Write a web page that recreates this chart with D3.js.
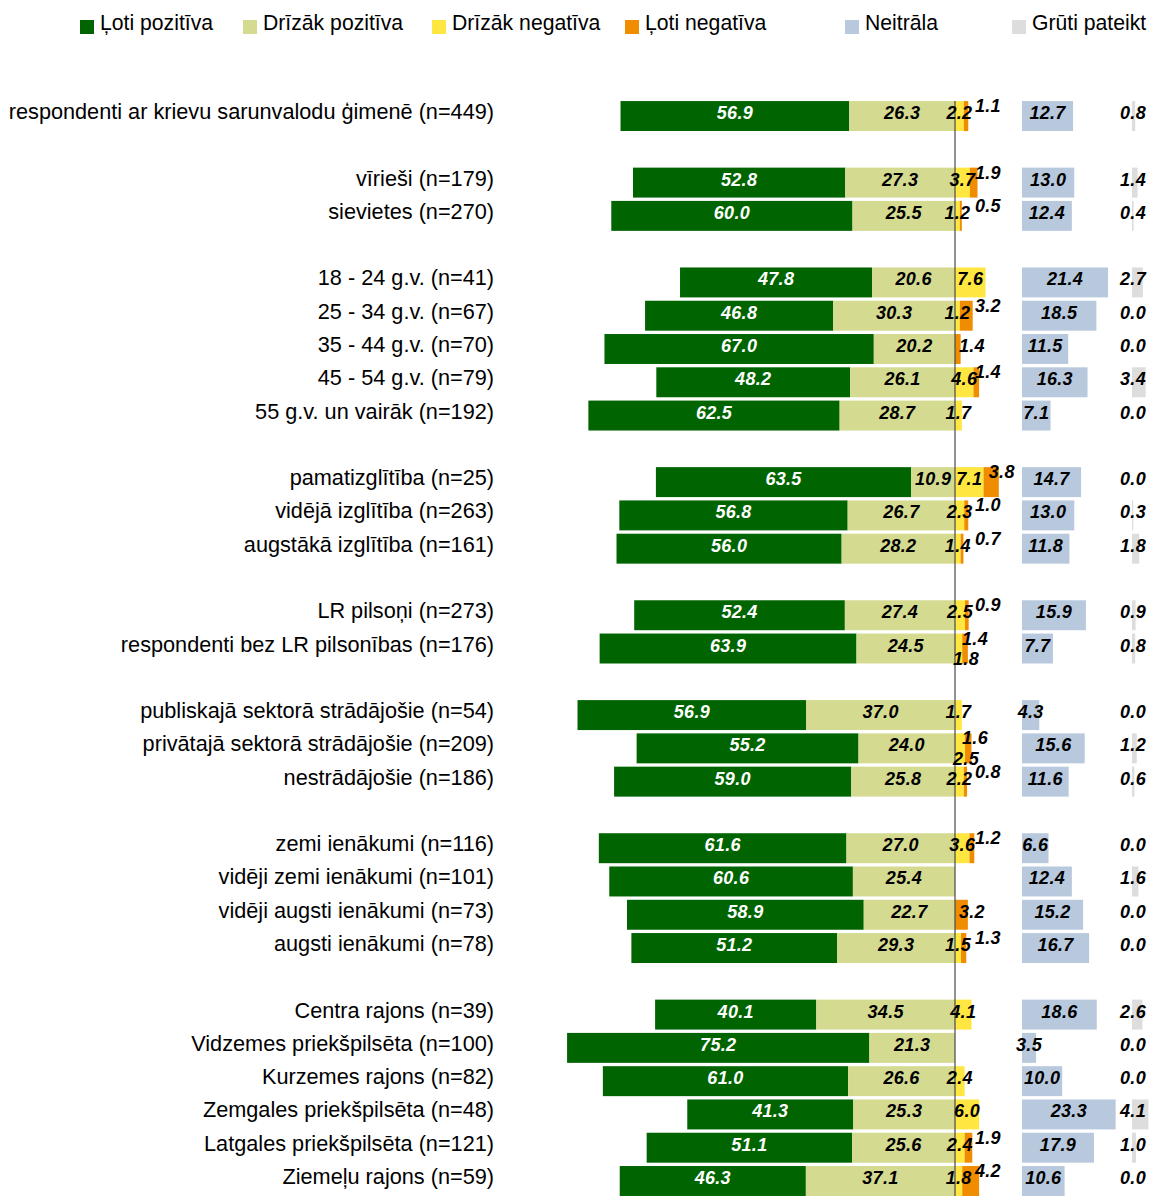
<!DOCTYPE html>
<html>
<head>
<meta charset="utf-8">
<script src="https://cdn.jsdelivr.net/npm/d3@7"></script>
<style>
  html, body { margin: 0; padding: 0; background: #fff; }
  svg { display: block; }
</style>
</head>
<body>
<script>
// ---------------- DATA ----------------
const categories = [
  "respondenti ar krievu sarunvalodu ģimenē (n=449)",
  "",
  "vīrieši (n=179)",
  "sievietes (n=270)",
  "",
  "18 - 24 g.v. (n=41)",
  "25 - 34 g.v. (n=67)",
  "35 - 44 g.v. (n=70)",
  "45 - 54 g.v. (n=79)",
  "55 g.v. un vairāk (n=192)",
  "",
  "pamatizglītība (n=25)",
  "vidējā izglītība (n=263)",
  "augstākā izglītība (n=161)",
  "",
  "LR pilsoņi (n=273)",
  "respondenti bez LR pilsonības (n=176)",
  "",
  "publiskajā sektorā strādājošie (n=54)",
  "privātajā sektorā strādājošie (n=209)",
  "nestrādājošie (n=186)",
  "",
  "zemi ienākumi (n=116)",
  "vidēji zemi ienākumi (n=101)",
  "vidēji augsti ienākumi (n=73)",
  "augsti ienākumi (n=78)",
  "",
  "Centra rajons (n=39)",
  "Vidzemes priekšpilsēta (n=100)",
  "Kurzemes rajons (n=82)",
  "Zemgales priekšpilsēta (n=48)",
  "Latgales priekšpilsēta (n=121)",
  "Ziemeļu rajons (n=59)"
];

const lotiPozitiva   = [56.9, null, 52.8, 60.0, null, 47.8, 46.8, 67.0, 48.2, 62.5, null, 63.5, 56.8, 56.0, null, 52.4, 63.9, null, 56.9, 55.2, 59.0, null, 61.6, 60.6, 58.9, 51.2, null, 40.1, 75.2, 61.0, 41.3, 51.1, 46.3];
const drizakPozitiva = [26.3, null, 27.3, 25.5, null, 20.6, 30.3, 20.2, 26.1, 28.7, null, 10.9, 26.7, 28.2, null, 27.4, 24.5, null, 37.0, 24.0, 25.8, null, 27.0, 25.4, 22.7, 29.3, null, 34.5, 21.3, 26.6, 25.3, 25.6, 37.1];
const drizakNegativa = [2.2, null, 3.7, 1.2, null, 7.6, 1.2, 0.0, 4.6, 1.7, null, 7.1, 2.3, 1.4, null, 2.5, 1.8, null, 1.7, 2.5, 2.2, null, 3.6, 0.0, 0.0, 1.5, null, 4.1, 0.0, 2.4, 6.0, 2.4, 1.8];
const lotiNegativa   = [1.1, null, 1.9, 0.5, null, 0.0, 3.2, 1.4, 1.4, 0.0, null, 3.8, 1.0, 0.7, null, 0.9, 1.4, null, 0.0, 1.6, 0.8, null, 1.2, 0.0, 3.2, 1.3, null, 0.0, 0.0, 0.0, 0.0, 1.9, 4.2];
const neitrala       = [12.7, null, 13.0, 12.4, null, 21.4, 18.5, 11.5, 16.3, 7.1, null, 14.7, 13.0, 11.8, null, 15.9, 7.7, null, 4.3, 15.6, 11.6, null, 6.6, 12.4, 15.2, 16.7, null, 18.6, 3.5, 10.0, 23.3, 17.9, 10.6];
const grutiPateikt   = [0.8, null, 1.4, 0.4, null, 2.7, 0.0, 0.0, 3.4, 0.0, null, 0.0, 0.3, 1.8, null, 0.9, 0.8, null, 0.0, 1.2, 0.6, null, 0.0, 1.6, 0.0, 0.0, null, 2.6, 0.0, 0.0, 4.1, 1.0, 0.0];

const seriesNames = ["Ļoti pozitīva", "Drīzāk pozitīva", "Drīzāk negatīva", "Ļoti negatīva", "Neitrāla", "Grūti pateikt"];
// rows where the two small negative labels are stacked above/below
const stackedLabelRows = ["respondenti bez LR pilsonības (n=176)", "privātajā sektorā strādājošie (n=209)"];

// ---------------- STYLE / LAYOUT ----------------
const colors = ["#006400", "#D4DA90", "#FFE640", "#F08C00", "#B8C9DD", "#DDDDDD"];
const W = 1149, H = 1196;
const x0 = 955;           // centre (zero) line
const unit = 4.02;        // px per percentage point
const legendX = [80, 243, 432, 625, 845, 1012];

const svg = d3.select("body").append("svg").attr("width", W).attr("height", H);

// scales
const x = d3.scaleLinear().domain([-100, 0]).range([x0 - 100 * unit, x0]);
const xn = d3.scaleLinear().domain([0, 100]).range([1022, 1022 + 100 * unit]);
const xg = d3.scaleLinear().domain([0, 100]).range([1132, 1132 + 100 * unit]);
const y = d3.scaleBand()
  .domain(d3.range(categories.length))
  .range([99.4, 99.4 + 33 * 33.28])
  .paddingInner(0.1)
  .paddingOuter(0.05);
const bh = y.bandwidth();
const cy = i => y(i) + bh / 2;

// rows
const rows = categories.map((c, i) => ({
  i, c,
  lp: lotiPozitiva[i], dp: drizakPozitiva[i], dn: drizakNegativa[i], ln: lotiNegativa[i],
  ne: neitrala[i], gp: grutiPateikt[i]
})).filter(d => d.c !== "");

// ---------------- LEGEND ----------------
const legend = svg.append("g");
seriesNames.forEach((n, k) => {
  legend.append("rect").attr("x", legendX[k]).attr("y", 20).attr("width", 14).attr("height", 14).attr("fill", colors[k]);
  legend.append("text").attr("x", legendX[k] + 20).attr("y", 29.5)
    .attr("font-family", "Liberation Sans, Arial, sans-serif").attr("font-size", 21.2).attr("fill", "#000")
    .text(n);
});

// ---------------- CATEGORY LABELS ----------------
svg.append("g").selectAll("text").data(rows).join("text")
  .attr("x", 494).attr("y", d => cy(d.i) + 3)
  .attr("text-anchor", "end")
  .attr("font-family", "Liberation Sans, Arial, sans-serif").attr("font-size", 21.7).attr("fill", "#000")
  .text(d => d.c);

// ---------------- BARS ----------------
const bars = svg.append("g");
// Ļoti pozitīva
bars.selectAll(".lp").data(rows).join("rect")
  .attr("x", d => x(-(d.lp + d.dp))).attr("width", d => x(-d.dp) - x(-(d.lp + d.dp)))
  .attr("y", d => y(d.i)).attr("height", bh).attr("fill", colors[0]);
// Drīzāk pozitīva
bars.selectAll(".dp").data(rows).join("rect")
  .attr("x", d => x(-d.dp)).attr("width", d => x(0) - x(-d.dp))
  .attr("y", d => y(d.i)).attr("height", bh).attr("fill", colors[1]);
// Drīzāk negatīva
bars.selectAll(".dn").data(rows).join("rect")
  .attr("x", d => x(0)).attr("width", d => x(d.dn) - x(0))
  .attr("y", d => y(d.i)).attr("height", bh).attr("fill", colors[2]);
// Ļoti negatīva
bars.selectAll(".ln").data(rows).join("rect")
  .attr("x", d => x(d.dn)).attr("width", d => x(d.dn + d.ln) - x(d.dn))
  .attr("y", d => y(d.i)).attr("height", bh).attr("fill", colors[3]);
// Neitrāla
bars.selectAll(".ne").data(rows).join("rect")
  .attr("x", xn(0)).attr("width", d => xn(d.ne) - xn(0))
  .attr("y", d => y(d.i)).attr("height", bh).attr("fill", colors[4]);
// Grūti pateikt
bars.selectAll(".gp").data(rows).join("rect")
  .attr("x", xg(0)).attr("width", d => xg(d.gp) - xg(0))
  .attr("y", d => y(d.i)).attr("height", bh).attr("fill", colors[5]);

// centre line
svg.append("line")
  .attr("x1", x(0)).attr("x2", x(0))
  .attr("y1", y(0)).attr("y2", H)
  .attr("stroke", "#4a4a4a").attr("stroke-width", 1.2);

// ---------------- VALUE LABELS ----------------
const fmt = d3.format(".1f");
const lab = svg.append("g")
  .attr("font-family", "Liberation Sans, Arial, sans-serif")
  .attr("font-size", 18).attr("font-weight", "bold").attr("font-style", "italic")
  .attr("letter-spacing", 0.3);

function addLabel(px, py, v, anchor, fill) {
  lab.append("text").attr("x", px).attr("y", py).attr("text-anchor", anchor)
    .attr("fill", fill).text(fmt(v));
}

rows.forEach(d => {
  const c = cy(d.i);
  const base = c + 3;
  addLabel((x(-(d.lp + d.dp)) + x(-d.dp)) / 2, base, d.lp, "middle", "#fff");
  addLabel((x(-d.dp) + x(0)) / 2, base, d.dp, "middle", "#000");
  const stacked = stackedLabelRows.includes(d.c);
  if (d.dn > 0) {
    if (stacked) addLabel(x(0) + 11, c + 16.5, d.dn, "middle", "#000");
    else addLabel((x(0) + x(d.dn)) / 2, base, d.dn, "middle", "#000");
  }
  if (d.ln > 0) {
    const end = x(d.dn + d.ln);
    if (stacked) addLabel(x(0) + 20, c - 4, d.ln, "middle", "#000");
    else if (d.dn > 0) addLabel(Math.max(x(0) + 20, end - 10), c - 4, d.ln, "start", "#000");
    else addLabel(x(0) + 4, base, d.ln, "start", "#000");
  }
  addLabel((xn(0) + xn(d.ne)) / 2, base, d.ne, "middle", "#000");
  addLabel(xg(0) + 1, base, d.gp, "middle", "#000");
});
</script>
</body>
</html>
